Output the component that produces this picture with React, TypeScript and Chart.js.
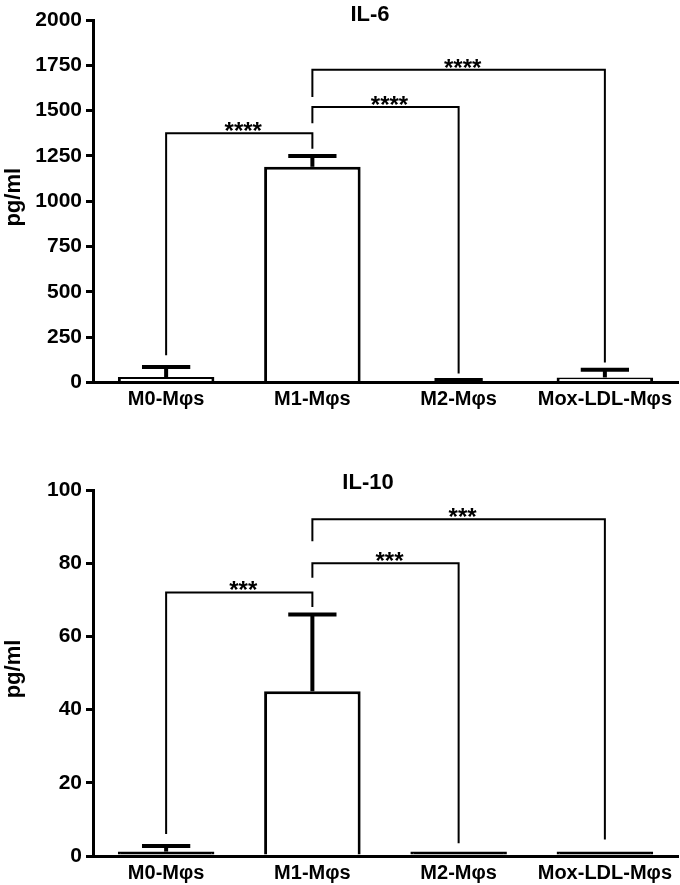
import { useEffect, useRef } from "react";
import { Chart, registerables } from "chart.js";

Chart.register(...registerables);

// ---------- data ----------
const categories = ["M0-Mφs", "M1-Mφs", "M2-Mφs", "Mox-LDL-Mφs"];

const il6Title = "IL-6";
const il6Values = [30, 1190, 5, 28];
const il6ErrorsUp = [55, 60, 9, 42];
const il6Max = 2000;
const il6Step = 250;
const il6BracketFrom = [0, 1, 1];
const il6BracketTo = [1, 2, 3];
const il6BracketLevel = [1375, 1520, 1725];
const il6BracketLeftEnd = [150, 1430, 1575];
const il6BracketRightEnd = [1290, 50, 110];
const il6BracketLabel = ["****", "****", "****"];

const il10Title = "IL-10";
const il10Values = [1.2, 45, 1.2, 1.2];
const il10ErrorsUp = [1.5, 21, 0, 0];
const il10Max = 100;
const il10Step = 20;
const il10BracketFrom = [0, 1, 1];
const il10BracketTo = [1, 2, 3];
const il10BracketLevel = [72, 80, 92];
const il10BracketLeftEnd = [6, 76, 86];
const il10BracketRightEnd = [68, 3.5, 4.5];
const il10BracketLabel = ["***", "***", "***"];

const yTitle = "pg/ml";

const FONT = "'Liberation Sans', Arial, Helvetica, sans-serif";

const annotPlugin = {
  id: "annot",
  afterDatasetsDraw(chart: any, _args: any, opts: any) {
    const { ctx, chartArea } = chart;
    const x = chart.scales.x;
    const y = chart.scales.y;
    const meta = chart.getDatasetMeta(0);
    ctx.save();
    ctx.strokeStyle = "#000";
    ctx.fillStyle = "#000";
    ctx.lineCap = "butt";

    // error bars (upper only)
    ctx.lineWidth = 4;
    meta.data.forEach((bar: any, i: number) => {
      const e = opts.errors[i];
      if (!e) return;
      const top = y.getPixelForValue(opts.values[i] + e);
      const half = bar.width / 4;
      ctx.beginPath();
      ctx.moveTo(bar.x, bar.y);
      ctx.lineTo(bar.x, top);
      ctx.stroke();
      ctx.beginPath();
      ctx.moveTo(bar.x - half, top);
      ctx.lineTo(bar.x + half, top);
      ctx.stroke();
    });

    // significance brackets
    ctx.lineWidth = 2;
    ctx.font = `bold 24px ${FONT}`;
    ctx.textAlign = "center";
    ctx.textBaseline = "alphabetic";
    opts.from.forEach((f: number, k: number) => {
      const t = opts.to[k];
      const xl = x.getPixelForValue(f);
      const xr = x.getPixelForValue(t);
      const yl = y.getPixelForValue(opts.level[k]);
      const yle = y.getPixelForValue(opts.leftEnd[k]);
      const yre = y.getPixelForValue(opts.rightEnd[k]);
      ctx.beginPath();
      ctx.moveTo(xl, yle);
      ctx.lineTo(xl, yl);
      ctx.lineTo(xr, yl);
      ctx.lineTo(xr, yre);
      ctx.stroke();
      const m = ctx.measureText(opts.labels[k]);
      ctx.fillText(opts.labels[k], (xl + xr) / 2 + 4, yl - 2 - m.actualBoundingBoxDescent);
    });

    // title
    ctx.font = `bold 22px ${FONT}`;
    ctx.textAlign = "center";
    ctx.textBaseline = "alphabetic";
    ctx.fillText(opts.title, opts.titleX, opts.titleY);

    // y axis title
    ctx.save();
    ctx.translate(opts.yTitleX, (chartArea.top + chartArea.bottom) / 2 - 4);
    ctx.rotate(-Math.PI / 2);
    ctx.textBaseline = "middle";
    ctx.fillText(yTitle, 0, 0);
    ctx.restore();

    ctx.restore();
  },
};

type PanelProps = {
  width: number;
  height: number;
  top: number;
  plotTop: number;
  plotBottom: number;
  title: string;
  titleX: number;
  titleY: number;
  values: number[];
  errors: number[];
  max: number;
  step: number;
  from: number[];
  to: number[];
  level: number[];
  leftEnd: number[];
  rightEnd: number[];
  labels: string[];
};

function Panel(p: PanelProps) {
  const ref = useRef<HTMLCanvasElement | null>(null);
  useEffect(() => {
    if (!ref.current) return;
    const plotH = p.plotBottom - p.plotTop;
    const chart = new Chart(ref.current, {
      type: "bar",
      data: {
        labels: categories,
        datasets: [
          {
            data: p.values,
            backgroundColor: (c: any) => {
              const v = typeof c.raw === "number" ? c.raw : 0;
              return (v / p.max) * plotH < 4.8 ? "#000000" : "#ffffff";
            },
            borderColor: "#000000",
            borderWidth: 3,
            borderSkipped: "start",
            categoryPercentage: 1,
            barPercentage: 0.66,
          },
        ],
      },
      options: {
        responsive: false,
        animation: false,
        layout: {
          autoPadding: false,
          padding: { top: p.plotTop, right: 2, left: 0, bottom: 0 },
        },
        plugins: {
          legend: { display: false },
          tooltip: { enabled: false },
          annot: {
            title: p.title,
            titleX: p.titleX,
            titleY: p.titleY,
            yTitleX: 14,
            values: p.values,
            errors: p.errors,
            from: p.from,
            to: p.to,
            level: p.level,
            leftEnd: p.leftEnd,
            rightEnd: p.rightEnd,
            labels: p.labels,
          },
        } as any,
        scales: {
          x: {
            grid: { display: false, drawTicks: false },
            border: { display: true, color: "#000", width: 3 },
            ticks: {
              color: "#000",
              font: { family: FONT, size: 20, weight: "bold" },
              padding: 5,
              maxRotation: 0,
              autoSkip: false,
            },
            afterFit: (s: any) => {
              s.height = p.height - p.plotBottom;
            },
          },
          y: {
            min: 0,
            max: p.max,
            grid: {
              display: true,
              drawOnChartArea: false,
              drawTicks: true,
              tickLength: 7,
              color: "#000",
              lineWidth: 3,
            },
            border: { display: true, color: "#000", width: 3 },
            ticks: {
              stepSize: p.step,
              color: "#000",
              font: { family: FONT, size: 21, weight: "bold" },
              padding: 4,
              callback: (v: any) => String(v),
            },
            afterFit: (s: any) => {
              s.width = 93;
            },
          },
        },
      },
      plugins: [annotPlugin as any],
    });
    return () => chart.destroy();
  }, []);
  return (
    <canvas
      ref={ref}
      width={p.width}
      height={p.height}
      style={{ position: "absolute", left: 0, top: p.top, width: p.width, height: p.height }}
    />
  );
}

export default function App() {
  return (
    <div style={{ position: "absolute", left: 0, top: 0, width: 680, height: 885, background: "#fff" }}>
      <Panel
        width={680}
        height={430}
        top={0}
        plotTop={20}
        plotBottom={382.5}
        title={il6Title}
        titleX={370}
        titleY={21}
        values={il6Values}
        errors={il6ErrorsUp}
        max={il6Max}
        step={il6Step}
        from={il6BracketFrom}
        to={il6BracketTo}
        level={il6BracketLevel}
        leftEnd={il6BracketLeftEnd}
        rightEnd={il6BracketRightEnd}
        labels={il6BracketLabel}
      />
      <Panel
        width={680}
        height={445}
        top={440}
        plotTop={50}
        plotBottom={416}
        title={il10Title}
        titleX={368}
        titleY={49}
        values={il10Values}
        errors={il10ErrorsUp}
        max={il10Max}
        step={il10Step}
        from={il10BracketFrom}
        to={il10BracketTo}
        level={il10BracketLevel}
        leftEnd={il10BracketLeftEnd}
        rightEnd={il10BracketRightEnd}
        labels={il10BracketLabel}
      />
    </div>
  );
}
